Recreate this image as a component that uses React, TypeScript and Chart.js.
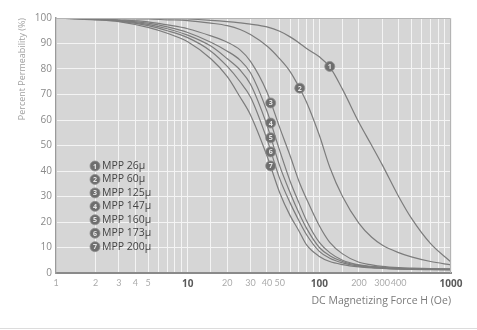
import React, { useEffect, useRef } from 'react';
import { Chart, registerables } from 'chart.js';

Chart.register(...registerables);

// DC magnetizing force H (Oe) sample points
const H = [1, 2, 3, 5, 7, 10, 15, 20, 25, 30, 40, 50, 60, 70, 80, 100, 120, 150, 200, 250, 300, 400, 500, 700, 1000];

// Percent permeability per material
const mpp26 = [100, 100, 100, 99.9, 99.8, 99.6, 99.1, 98.6, 98.1, 97.6, 96.5, 94.8, 92.6, 90.3, 88, 84.8, 80.8, 72, 59, 50, 42.5, 30, 21.5, 11.5, 4.3];
const mpp60 = [100, 99.9, 99.8, 99.6, 99.3, 99, 98, 97, 95.5, 93.5, 89, 84, 79, 73, 67, 54, 41.5, 30, 19.5, 14, 11, 8, 6.3, 4.5, 3.2];
const mpp125 = [100, 99.7, 99.3, 98.5, 97.3, 95.8, 93, 90.5, 87.5, 83, 71, 57, 46, 36, 29, 18.5, 12, 7.5, 4.2, 3.2, 2.6, 2.1, 1.9, 1.7, 1.6];
const mpp147 = [100, 99.6, 99.1, 98, 96.5, 94.3, 90.5, 87, 83.5, 78.5, 63.5, 48, 36, 27.5, 20.5, 12, 8, 5, 3.2, 2.6, 2.2, 1.9, 1.7, 1.6, 1.5];
const mpp160 = [100, 99.5, 99, 97.5, 95.8, 93.3, 89, 84, 79.6, 74, 58, 42, 31.5, 23.5, 17.5, 10, 6.8, 4.5, 3, 2.4, 2, 1.8, 1.6, 1.5, 1.4];
const mpp173 = [100, 99.4, 98.8, 97, 95, 92.3, 87, 81, 75, 69, 52.5, 37, 27.5, 20.5, 15, 8.5, 5.8, 4, 2.7, 2.2, 1.9, 1.6, 1.5, 1.4, 1.3];
const mpp200 = [100, 99.3, 98.6, 96.3, 94, 90.7, 84, 77, 69, 62, 46, 31.5, 22.5, 16.5, 11, 6.5, 4.5, 3.3, 2.4, 2, 1.8, 1.5, 1.4, 1.3, 1.2];

const seriesNames = ['MPP 26µ', 'MPP 60µ', 'MPP 125µ', 'MPP 147µ', 'MPP 160µ', 'MPP 173µ', 'MPP 200µ'];
const seriesValues = [mpp26, mpp60, mpp125, mpp147, mpp160, mpp173, mpp200];

// numbered badge positions on the curves
const markerH = [120, 71, 42.7, 42.7, 42.7, 42.7, 42.7];
const markerP = [81, 72.5, 66.7, 58.8, 53, 47.5, 42];

// labelled x ticks
const xLabelValues = [1, 2, 3, 4, 5, 10, 20, 30, 40, 50, 100, 200, 300, 400, 1000];
const xMajorValues = [10, 100, 1000];

const FONT = "'Open Sans', 'DejaVu Sans', sans-serif";
const NARROW = "Lato, 'Open Sans', sans-serif";

function drawBadge(ctx: CanvasRenderingContext2D, x: number, y: number, n: number) {
  ctx.save();
  ctx.beginPath();
  ctx.arc(x, y, 5, 0, Math.PI * 2);
  ctx.fillStyle = '#6e6e6e';
  ctx.fill();
  ctx.lineWidth = 0.8;
  ctx.strokeStyle = '#8e8e8e';
  ctx.stroke();
  ctx.fillStyle = '#e6e6e6';
  ctx.font = `bold 7px ${FONT}`;
  ctx.textAlign = 'center';
  ctx.textBaseline = 'middle';
  ctx.fillText(String(n), x, y + 0.5);
  ctx.restore();
}

const decorPlugin = {
  id: 'decor',
  beforeDraw(chart: any) {
    const { ctx, chartArea, width } = chart;
    ctx.save();
    ctx.fillStyle = '#d6d6d6';
    ctx.fillRect(chartArea.left, chartArea.top, chartArea.right - chartArea.left, chartArea.bottom - chartArea.top);
    ctx.strokeStyle = '#dcdcdc';
    ctx.lineWidth = 1;
    ctx.beginPath();
    ctx.moveTo(0, 328.5);
    ctx.lineTo(width, 328.5);
    ctx.stroke();
    ctx.restore();
  },
  afterDatasetsDraw(chart: any) {
    const { ctx, chartArea, scales } = chart;
    ctx.save();
    ctx.strokeStyle = '#b4b4b4';
    ctx.lineWidth = 1;
    ctx.beginPath();
    ctx.moveTo(chartArea.left, chartArea.top + 0.5);
    ctx.lineTo(chartArea.right - 0.5, chartArea.top + 0.5);
    ctx.lineTo(chartArea.right - 0.5, chartArea.bottom);
    ctx.stroke();
    ctx.restore();

    for (let i = 0; i < markerH.length; i++) {
      const x = scales.x.getPixelForValue(markerH[i]);
      const y = scales.y.getPixelForValue(markerP[i]);
      drawBadge(ctx, x, y, i + 1);
    }

    const lx = chartArea.left + 39;
    const ly = chartArea.top + 148;
    const step = 13.45;
    for (let i = 0; i < seriesNames.length; i++) {
      const y = ly + i * step;
      drawBadge(ctx, lx, y, i + 1);
      ctx.save();
      ctx.fillStyle = '#444444';
      ctx.font = `10.5px ${FONT}`;
      ctx.textAlign = 'left';
      ctx.textBaseline = 'middle';
      ctx.fillText(seriesNames[i], lx + 7, y);
      ctx.restore();
    }
  },
};

export default function App() {
  const canvasRef = useRef<HTMLCanvasElement | null>(null);

  useEffect(() => {
    document.body.style.margin = '0';
    const canvas = canvasRef.current;
    if (!canvas) return;

    const datasets = seriesValues.map((vals, i) => ({
      label: seriesNames[i],
      data: H.map((h, j) => ({ x: h, y: vals[j] })),
      borderColor: '#7c7c7c',
      borderWidth: 1.2,
      pointRadius: 0,
      fill: false,
      cubicInterpolationMode: 'monotone' as const,
    }));

    const chart = new Chart(canvas, {
      type: 'line',
      data: { datasets },
      plugins: [decorPlugin],
      options: {
        animation: false,
        responsive: true,
        maintainAspectRatio: false,
        layout: { padding: { left: 0, top: 18, right: 26, bottom: 0 } },
        plugins: {
          legend: { display: false },
          tooltip: { enabled: false },
        },
        scales: {
          x: {
            type: 'logarithmic',
            min: 1,
            max: 1000,
            afterFit: (s: any) => { s.height = 57; },
            grid: { color: '#f4f4f4', lineWidth: 1, drawTicks: false },
            border: { display: true, color: '#8a8a8a', width: 2 },
            ticks: {
              autoSkip: false,
              maxRotation: 0,
              padding: 5,
              color: (c: any) => (xMajorValues.includes(c.tick?.value) ? '#5a5a5a' : '#ababab'),
              font: (c: any) => (xMajorValues.includes(c.tick?.value)
                ? { family: FONT, size: 10, weight: 'bold' }
                : { family: NARROW, size: 9, weight: 'normal' }),
              callback: (v: any) => (xLabelValues.includes(Number(v)) ? String(v) : ''),
            },
            title: {
              display: true,
              text: 'DC Magnetizing Force H (Oe)',
              align: 'end',
              color: '#7a7a7a',
              font: { family: FONT, size: 10.5 },
              padding: { top: 0, bottom: 23 },
            },
          },
          y: {
            min: 0,
            max: 100,
            afterFit: (s: any) => { s.width = 56; },
            grid: { color: '#f4f4f4', lineWidth: 1, drawTicks: false },
            border: { display: true, color: '#9a9a9a', width: 1.5 },
            ticks: {
              stepSize: 5,
              padding: 4,
              color: '#8a8a8a',
              font: { family: FONT, size: 10 },
              callback: (v: any) => (Number(v) % 10 === 0 ? String(v) : ''),
            },
            title: {
              display: true,
              text: 'Percent Permeability (%)',
              align: 'end',
              color: '#a0a0a0',
              font: { family: FONT, size: 9 },
              padding: { top: 17, bottom: 0 },
            },
          },
        },
      } as any,
    });

    return () => chart.destroy();
  }, []);

  return (
    <div style={{ width: 477, height: 330, position: 'relative', background: '#ffffff' }}>
      <canvas ref={canvasRef} />
    </div>
  );
}
